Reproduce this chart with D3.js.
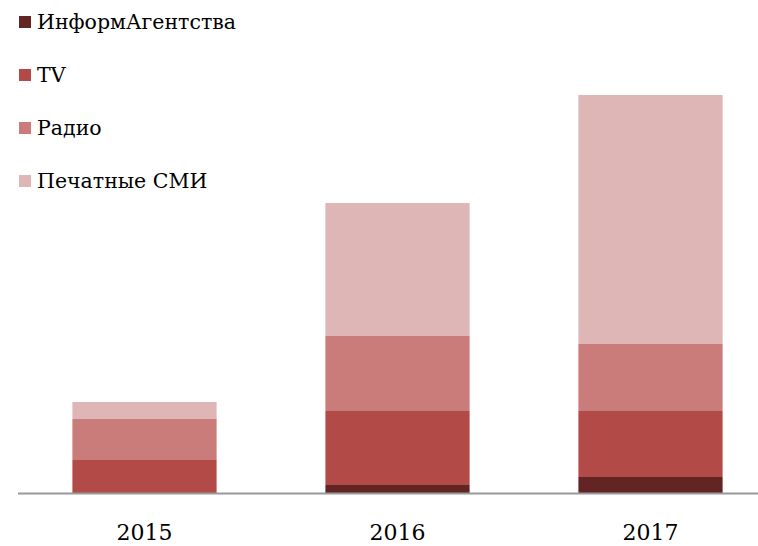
<html lang="ru">
  <head>
    <meta charset="utf-8">
    <script src="https://d3js.org/d3.v7.min.js"></script>
    <style type="text/css">
body {
  margin: 0;
  background: white;
}
    </style>
  </head>
  <body>
    <div id="chart"></div>
    <script type="text/javascript">
const width = 758;
const height = 546;

// data (relative units)
const years = ["2015", "2016", "2017"];
const seriesNames = ["ИнформАгентства", "TV", "Радио", "Печатные СМИ"];
const informAgencies = [0, 8, 16];
const tv = [33, 74, 66];
const radio = [41, 75, 67];
const print = [17, 133, 249];
const colors = ["#632523", "#b24a47", "#c97c7a", "#deb6b5"];

const font = "'DejaVu Serif', serif";

let rows = years.map((y, i) => ({
  year: y,
  [seriesNames[0]]: informAgencies[i],
  [seriesNames[1]]: tv[i],
  [seriesNames[2]]: radio[i],
  [seriesNames[3]]: print[i]
}));

let series = d3.stack().keys(seriesNames)(rows);

let x = d3.scaleBand()
  .domain(years)
  .range([18, 777])
  .paddingInner(0.43)
  .paddingOuter(0.215);

let y = d3.scaleLinear()
  .domain([0, 400])
  .range([493, 93]);

let color = d3.scaleOrdinal()
  .domain(seriesNames)
  .range(colors);

let svg = d3.select("#chart").append("svg")
  .attr("width", width)
  .attr("height", height);

svg.append("g")
  .selectAll("g")
  .data(series)
  .join("g")
    .attr("fill", d => color(d.key))
  .selectAll("rect")
  .data(d => d)
  .join("rect")
    .attr("x", d => x(d.data.year))
    .attr("y", d => y(d[1]))
    .attr("width", x.bandwidth())
    .attr("height", d => y(d[0]) - y(d[1]));

// baseline
let xAxis = g => g
  .attr("transform", `translate(0,${y(0)})`)
  .call(d3.axisBottom(x).tickSize(0).tickPadding(31))
  .call(g => g.select(".domain")
    .attr("d", `M18,0.5H${width}`)
    .attr("stroke", "#999")
    .attr("stroke-width", 2))
  .call(g => g.selectAll("text")
    .attr("font-family", font)
    .attr("font-size", 22)
    .attr("fill", "#000"));

svg.append("g").call(xAxis);

// legend
let legend = svg.append("g")
  .selectAll("g")
  .data(seriesNames)
  .join("g")
    .attr("transform", (d, i) => `translate(19,${22 + i * 53})`);

legend.append("rect")
  .attr("x", 0)
  .attr("y", -6)
  .attr("width", 12)
  .attr("height", 12)
  .attr("fill", d => color(d));

legend.append("text")
  .attr("x", 18)
  .attr("y", 0)
  .attr("dy", "0.35em")
  .attr("font-family", font)
  .attr("font-size", 20.5)
  .attr("fill", "#000")
  .text(d => d);
    </script>
  </body>
</html>
